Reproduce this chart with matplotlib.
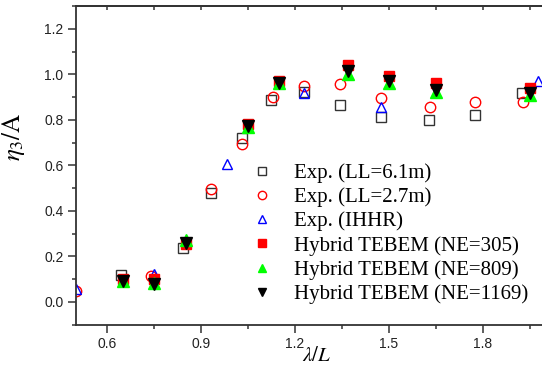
import matplotlib
matplotlib.use('Agg')
import matplotlib.pyplot as plt
from matplotlib.ticker import MultipleLocator

plt.rcParams['mathtext.fontset'] = 'stix'

# Exp. (LL=6.1m)
ll61_x = [0.643, 0.841, 0.932, 1.030, 1.124, 1.227, 1.343, 1.475, 1.628, 1.775, 1.925]
ll61_y = [0.120, 0.237, 0.480, 0.720, 0.889, 0.920, 0.866, 0.811, 0.800, 0.822, 0.917]
# Exp. (LL=2.7m)
ll27_x = [0.500, 0.741, 0.931, 1.032, 1.128, 1.227, 1.345, 1.475, 1.630, 1.775, 1.927]
ll27_y = [0.047, 0.113, 0.497, 0.695, 0.899, 0.950, 0.956, 0.895, 0.855, 0.877, 0.877]
# Exp. (IHHR)
ihhr_x = [0.500, 0.748, 0.984, 1.227, 1.475, 1.977]
ihhr_y = [0.055, 0.124, 0.607, 0.918, 0.858, 0.972]
# Hybrid TEBEM
teb_x = [0.65, 0.75, 0.85, 1.05, 1.15, 1.37, 1.50, 1.65, 1.95]
ne305 = [0.100, 0.100, 0.255, 0.780, 0.970, 1.042, 0.994, 0.960, 0.939]
ne809 = [0.090, 0.082, 0.270, 0.770, 0.960, 1.000, 0.960, 0.922, 0.910]
ne1169 = [0.090, 0.080, 0.260, 0.772, 0.962, 1.015, 0.969, 0.930, 0.917]

fig = plt.figure(figsize=(5.42, 3.67), dpi=100)
ax = fig.add_axes([0.1402, 0.1153, 0.8661, 0.8684])

ax.plot(ll61_x, ll61_y, 's', mfc='none', mec='#333333', mew=1.0, ms=6.5, label='Exp. (LL=6.1m)')
ax.plot(ll27_x, ll27_y, 'o', mfc='none', mec='red', mew=1.0, ms=7.5, label='Exp. (LL=2.7m)')
ax.plot(ihhr_x, ihhr_y, '^', mfc='none', mec='blue', mew=1.0, ms=7.5, label='Exp. (IHHR)')
ax.plot(teb_x, ne305, 's', color='red', ms=7, label='Hybrid TEBEM (NE=305)')
ax.plot(teb_x, ne809, '^', color='#00ff00', ms=8, label='Hybrid TEBEM (NE=809)')
ax.plot(teb_x, ne1169, 'v', color='black', ms=8, label='Hybrid TEBEM (NE=1169)')

ax.set_xlim(0.5, 2.0)
ax.set_ylim(-0.1, 1.3)
ax.xaxis.set_major_locator(MultipleLocator(0.3))
ax.xaxis.set_minor_locator(MultipleLocator(0.15))
ax.yaxis.set_major_locator(MultipleLocator(0.2))
ax.yaxis.set_minor_locator(MultipleLocator(0.1))

for s in ax.spines.values():
    s.set_color('#333333')
    s.set_linewidth(1.3)
ax.spines['right'].set_visible(False)

ax.tick_params(which='both', direction='out', color='#333333', width=1.1,
               top=False, right=False, labelsize=10, labelcolor='#222222')
ax.tick_params(which='major', length=5.5)
ax.tick_params(which='minor', length=3)
for lbl in ax.get_xticklabels() + ax.get_yticklabels():
    lbl.set_family('Liberation Sans')

top = ax.secondary_xaxis('top')
top.xaxis.set_major_locator(MultipleLocator(0.15))
top.tick_params(direction='in', length=3, width=1.1, color='#333333', labeltop=False)
top.spines['top'].set_color('#333333')
top.spines['top'].set_linewidth(1.3)

ax.set_ylabel(r'$\eta_{3}/\mathrm{A}$', fontsize=18)
ax.yaxis.set_label_coords(-0.104, 0.59)
ax.set_xlabel(r'$\lambda/L$', fontsize=15)
ax.xaxis.set_label_coords(0.513, -0.095)
ax.xaxis.label.set_va('center')

leg = ax.legend(loc='upper left', bbox_to_anchor=(0.374, 0.507), frameon=False,
                prop={'family': 'Liberation Serif', 'size': 15},
                handlelength=1.0, handletextpad=1.05, labelspacing=0.22,
                borderpad=0, borderaxespad=0, markerscale=0.8)

fig.savefig('out.png', dpi=100)
